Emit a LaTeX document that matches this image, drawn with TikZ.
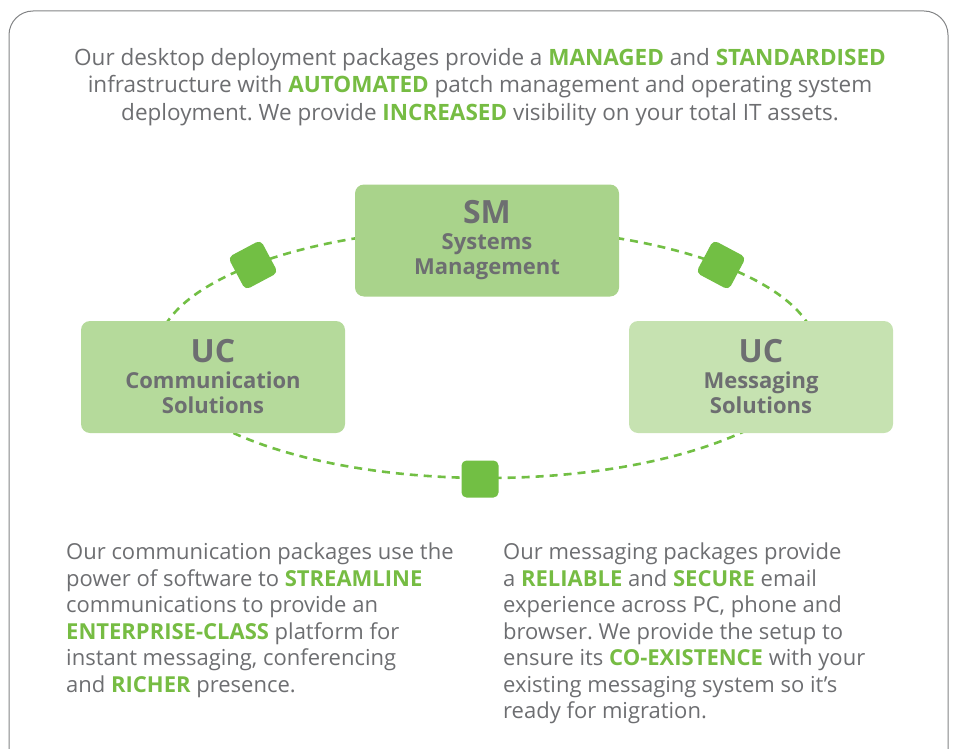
\documentclass[tikz,border=0pt]{standalone}
\usepackage{fontspec}
\setmainfont{Open Sans}
\usepackage{xcolor}
\frenchspacing
\definecolor{txtgray}{HTML}{6D6E71}
\definecolor{hlgreen}{HTML}{76BC43}
\definecolor{dotgreen}{HTML}{72BF44}
\definecolor{smfill}{HTML}{A9D38B}
\definecolor{ccfill}{HTML}{B5DA9B}
\definecolor{msfill}{HTML}{C6E2B1}
\newcommand{\hl}[1]{\textcolor{hlgreen}{\textbf{#1}}}
\newcommand{\bigtag}[1]{{\fontsize{32}{34}\selectfont #1}}

\begin{document}
\begin{tikzpicture}[x=1pt, y=-1pt,
  box/.style={rounded corners=9pt, minimum width=264pt, minimum height=112pt,
    align=center, text=txtgray, font=\fontsize{22}{25.5}\selectfont\bfseries},
  link/.style={dotgreen, line width=2.6pt, dash pattern=on 8pt off 6pt},
  knot/.style={fill=dotgreen, rounded corners=5pt, minimum size=37pt, inner sep=0pt},
  para/.style={text=txtgray, font=\fontsize{22}{26.5}\selectfont, inner sep=0pt}]
  \useasboundingbox (0,0) rectangle (955,749);
  \clip (0,0) rectangle (955,749);
  \draw[txtgray!85, line width=1pt, rounded corners=24pt] (9,11) rectangle (948,800);

  \node[para, align=center, anchor=north, font=\fontsize{22.5}{27.5}\selectfont] (intro) at (480,48)
    {Our desktop deployment packages provide a \hl{MANAGED} and \hl{STANDARDISED}\\
     infrastructure with \hl{AUTOMATED} patch management and operating system\\
     deployment. We provide \hl{INCREASED} visibility on your total IT assets.};

  \draw[link] (487,353) ellipse [x radius=330pt, y radius=125pt];

  \node[box, fill=smfill] (sm) at (487,240.5) {\bigtag{SM}\\Systems\\Management};
  \node[box, fill=ccfill] (comms) at (213,377) {\bigtag{UC}\\Communication\\Solutions};
  \node[box, fill=msfill] (msg) at (761,377) {\bigtag{UC}\\Messaging\\Solutions};

  \node[knot, rotate=28] (knotA) at (253,265) {};
  \node[knot, rotate=-28] (knotB) at (721,265) {};
  \node[knot] (knotC) at (480,479) {};

  \node[para, align=left, anchor=north west] (commtext) at (66,543)
    {Our communication packages use the\\
     power of software to \hl{STREAMLINE}\\
     communications to provide an\\
     \hl{ENTERPRISE-CLASS} platform for\\
     instant messaging, conferencing\\
     and \hl{RICHER} presence.};
  \node[para, align=left, anchor=north west] (msgtext) at (503,543)
    {Our messaging packages provide\\
     a \hl{RELIABLE} and \hl{SECURE} email\\
     experience across PC, phone and\\
     browser. We provide the setup to\\
     ensure its \hl{CO-EXISTENCE} with your\\
     existing messaging system so it’s\\
     ready for migration.};
\end{tikzpicture}
\end{document}
